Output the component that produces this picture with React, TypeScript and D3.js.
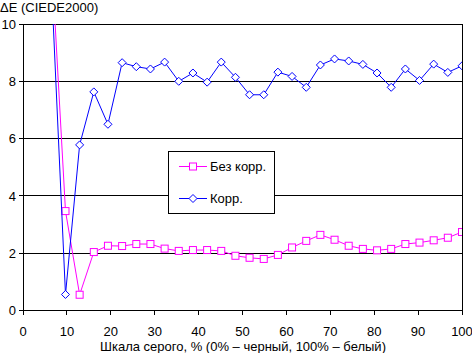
import React from "react";
import * as d3 from "d3";

const xValues = [6.45, 9.68, 12.9, 16.13, 19.35, 22.58, 25.81, 29.03, 32.26, 35.48, 38.71, 41.94, 45.16, 48.39, 51.61, 54.84, 58.06, 61.29, 64.52, 67.74, 70.97, 74.19, 77.42, 80.65, 83.87, 87.1, 90.32, 93.55, 96.77, 100];
const bezKorr = [12.4, 3.47, 0.55, 2.04, 2.26, 2.25, 2.32, 2.32, 2.16, 2.08, 2.11, 2.11, 2.08, 1.91, 1.84, 1.8, 1.94, 2.2, 2.43, 2.64, 2.47, 2.26, 2.15, 2.1, 2.15, 2.32, 2.37, 2.45, 2.54, 2.74];
const korr = [11.5, 0.56, 5.78, 7.63, 6.5, 8.65, 8.51, 8.43, 8.67, 8.0, 8.29, 7.97, 8.67, 8.14, 7.53, 7.53, 8.32, 8.17, 7.79, 8.57, 8.78, 8.71, 8.59, 8.29, 7.79, 8.43, 8.03, 8.6, 8.31, 8.54];
const xTicks = [0, 10, 20, 30, 40, 50, 60, 70, 80, 90, 100];
const yTicks = [0, 2, 4, 6, 8, 10];
const seriesNames = ["Без корр.", "Корр."];
const yTitle = "ΔE (CIEDE2000)";
const xTitle = "Шкала серого, % (0% – черный, 100% – белый)";

export default function App() {
  const W = 472, H = 353;
  const left = 23, right = 462, top = 24, bottom = 310.5;
  const x = d3.scaleLinear().domain([0, 100]).range([left, right]);
  const y = d3.scaleLinear().domain([0, 10]).range([bottom, top]);
  const line = d3.line<number>().x((_, i) => x(xValues[i])).y((d) => y(d));
  const font = "Arial, 'Liberation Sans', sans-serif";
  const pink = "#FF00FF", blue = "#0000FF";
  const sq = (cx: number, cy: number, key: any) => (
    <rect key={key} x={cx - 3.5} y={cy - 3.5} width={7} height={7} fill="#fff" stroke={pink} strokeWidth={1} />
  );
  const dia = (cx: number, cy: number, key: any) => (
    <path key={key} d={`M${cx},${cy - 4}L${cx + 4},${cy}L${cx},${cy + 4}L${cx - 4},${cy}Z`} fill="#fff" stroke={blue} strokeWidth={1} />
  );
  const inRange = (v: number) => v <= 10 && v >= 0;
  return (
    <svg width={W} height={H} style={{ position: "absolute", left: 0, top: 0, background: "#fff" }} fontFamily={font}>
      <defs>
        <clipPath id="plot">
          <rect x={left} y={top} width={right - left} height={bottom - top} />
        </clipPath>
      </defs>
      <rect x={0} y={0} width={W} height={H} fill="#fff" />
      <g shapeRendering="crispEdges">
        {yTicks.map((t) => (
          <line key={"g" + t} x1={left - 4} x2={right} y1={y(t)} y2={y(t)} stroke="#000" strokeWidth={1} />
        ))}
        <line x1={left} x2={left} y1={top} y2={bottom} stroke="#000" />
        <line x1={right} x2={right} y1={top} y2={bottom} stroke="#000" />
        {xTicks.map((t) => (
          <line key={"xt" + t} x1={x(t)} x2={x(t)} y1={bottom} y2={bottom + 4} stroke="#000" />
        ))}
      </g>
      {yTicks.map((t) => (
        <text key={"yl" + t} x={16} y={y(t) + 4.6} textAnchor="end" fontSize={13} fill="#000">{t}</text>
      ))}
      {xTicks.map((t) => (
        <text key={"xl" + t} x={x(t)} y={335.5} textAnchor="middle" fontSize={13} fill="#000">{t}</text>
      ))}
      <text x={0} y={12} fontSize={13} fill="#000">{yTitle}</text>
      <text x={243} y={351} textAnchor="middle" fontSize={13} fill="#000">{xTitle}</text>
      <g clipPath="url(#plot)">
        <path d={line(bezKorr) || ""} fill="none" stroke={pink} strokeWidth={1} />
        {bezKorr.map((v, i) => (inRange(v) ? sq(x(xValues[i]), y(v), "p" + i) : null))}
        <path d={line(korr) || ""} fill="none" stroke={blue} strokeWidth={1} />
        {korr.map((v, i) => (inRange(v) ? dia(x(xValues[i]), y(v), "b" + i) : null))}
      </g>
      <rect x={168.5} y={151.5} width={106} height={62} fill="#fff" stroke="#000" strokeWidth={1} />
      <line x1={179} x2={207} y1={166.5} y2={166.5} stroke={pink} />
      {sq(193, 166.5, "lp")}
      <text x={210} y={171} fontSize={13} fill="#000">{seriesNames[0]}</text>
      <line x1={179} x2={207} y1={198.5} y2={198.5} stroke={blue} />
      {dia(193, 198.5, "lb")}
      <text x={210} y={203} fontSize={13} fill="#000">{seriesNames[1]}</text>
    </svg>
  );
}
